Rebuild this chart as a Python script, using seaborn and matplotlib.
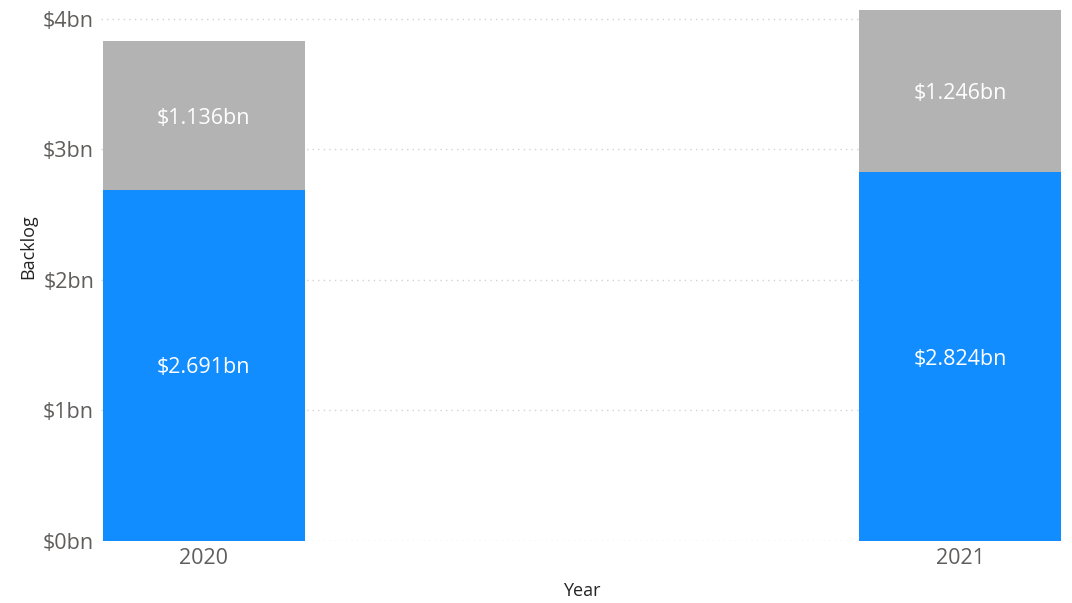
import matplotlib
matplotlib.use("Agg")
import matplotlib.pyplot as plt
import seaborn as sns
import pandas as pd

years = ["2020", "2021"]
base_bn = [2.691, 2.824]
extra_bn = [1.136, 1.246]
y_ticks = [0, 1, 2, 3, 4]
y_tick_labels = ["$0bn", "$1bn", "$2bn", "$3bn", "$4bn"]

BLUE = "#118DFF"
GREY = "#B3B3B3"
TICK_COLOR = "#605E5C"
TITLE_COLOR = "#252423"

sns.set_theme(style="white")
plt.rcParams["font.family"] = ["Open Sans", "DejaVu Sans"]

df = pd.DataFrame({"Year": years, "base": base_bn, "extra": extra_bn})
df["total"] = df["base"] + df["extra"]

fig = plt.figure(figsize=(10.72, 6.03), dpi=100)
ax = fig.add_axes([0.0942, 0.1028, 0.8965, 0.889])

bar_w = 0.267
sns.barplot(data=df, x="Year", y="total", color=GREY, width=bar_w,
            saturation=1, linewidth=0, ax=ax, zorder=2)
sns.barplot(data=df, x="Year", y="base", color=BLUE, width=bar_w,
            saturation=1, linewidth=0, ax=ax, zorder=3)

# segment labels, centred in each stacked block
for i, row in df.iterrows():
    ax.text(i, row["base"] / 2, f"${row['base']:.3f}bn", ha="center",
            va="center_baseline", color="white", fontsize=15.5, zorder=4)
    ax.text(i, row["base"] + row["extra"] / 2, f"${row['extra']:.3f}bn",
            ha="center", va="center_baseline", color="white", fontsize=15.5,
            zorder=4)

ax.set_xlim(-0.136, 1.135)
ax.set_ylim(0, 4.107)
ax.set_yticks(y_ticks)
ax.set_yticklabels(y_tick_labels)
for y in y_ticks:
    ax.axhline(y, color="#D2D2D2", linestyle=(0, (1, 3)), linewidth=1, zorder=1)

for s in ax.spines.values():
    s.set_visible(False)
ax.tick_params(axis="both", length=0, labelsize=15.5, colors=TICK_COLOR)
ax.tick_params(axis="y", pad=5)
ax.tick_params(axis="x", pad=5)

ax.set_xlabel("Year", fontsize=13, color=TITLE_COLOR, fontweight="medium")
ax.set_ylabel("Backlog", fontsize=13, color=TITLE_COLOR, fontweight="medium")
ax.xaxis.set_label_coords(0.5, -0.076)
ax.yaxis.set_label_coords(-0.066, 0.549)

fig.savefig("out.png", dpi=100)
